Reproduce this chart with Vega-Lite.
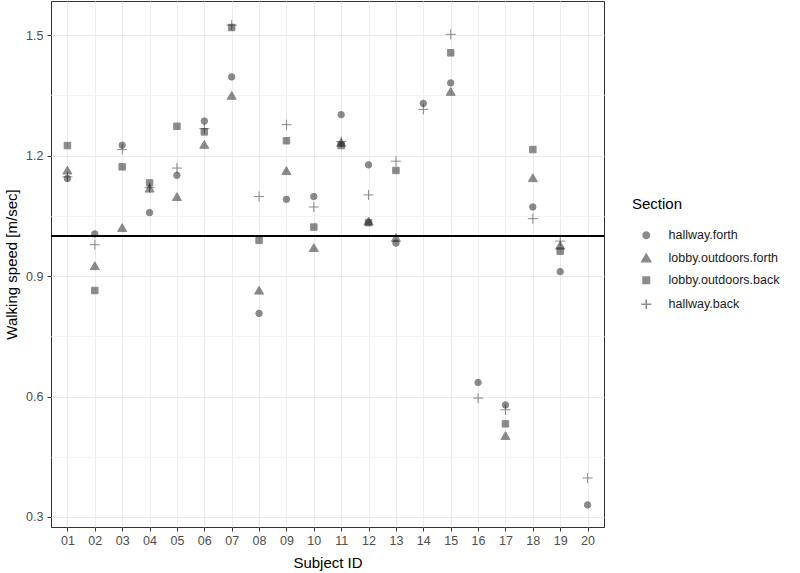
{
  "$schema": "https://vega.github.io/schema/vega-lite/v6.json",
  "autosize": "none",
  "width": 553,
  "height": 526,
  "padding": {"left": 51, "top": 1, "right": 196, "bottom": 46},
  "background": "white",
  "config": {
    "font": "Liberation Sans",
    "view": {"stroke": "#333333", "strokeWidth": 1},
    "axis": {
      "domain": false,
      "grid": true,
      "gridColor": "#ebebeb",
      "gridWidth": 1,
      "tickColor": "#333333",
      "tickSize": 4,
      "tickWidth": 1,
      "labelColor": "#4d4d4d",
      "labelFontSize": 12.5,
      "labelPadding": 3,
      "titleFontSize": 15,
      "titleFontWeight": "normal",
      "titleColor": "#000000"
    },
    "legend": {
      "titleFontSize": 15,
      "titleFontWeight": "normal",
      "titleColor": "#000000",
      "labelFontSize": 12.5,
      "labelColor": "#1a1a1a"
    }
  },
  "data": {
    "values": [
      {"subject": "01", "section": "hallway.forth", "speed": 1.143},
      {"subject": "01", "section": "lobby.outdoors.forth", "speed": 1.163},
      {"subject": "01", "section": "lobby.outdoors.back", "speed": 1.225},
      {"subject": "01", "section": "hallway.back", "speed": 1.147},
      {"subject": "02", "section": "hallway.forth", "speed": 1.005},
      {"subject": "02", "section": "lobby.outdoors.forth", "speed": 0.925},
      {"subject": "02", "section": "lobby.outdoors.back", "speed": 0.864},
      {"subject": "02", "section": "hallway.back", "speed": 0.978},
      {"subject": "03", "section": "hallway.forth", "speed": 1.226},
      {"subject": "03", "section": "lobby.outdoors.forth", "speed": 1.020},
      {"subject": "03", "section": "lobby.outdoors.back", "speed": 1.172},
      {"subject": "03", "section": "hallway.back", "speed": 1.215},
      {"subject": "04", "section": "hallway.forth", "speed": 1.058},
      {"subject": "04", "section": "lobby.outdoors.forth", "speed": 1.118},
      {"subject": "04", "section": "lobby.outdoors.back", "speed": 1.132},
      {"subject": "04", "section": "hallway.back", "speed": 1.120},
      {"subject": "05", "section": "hallway.forth", "speed": 1.151},
      {"subject": "05", "section": "lobby.outdoors.forth", "speed": 1.097},
      {"subject": "05", "section": "lobby.outdoors.back", "speed": 1.273},
      {"subject": "05", "section": "hallway.back", "speed": 1.169},
      {"subject": "06", "section": "hallway.forth", "speed": 1.286},
      {"subject": "06", "section": "lobby.outdoors.forth", "speed": 1.227},
      {"subject": "06", "section": "lobby.outdoors.back", "speed": 1.259},
      {"subject": "06", "section": "hallway.back", "speed": 1.267},
      {"subject": "07", "section": "hallway.forth", "speed": 1.396},
      {"subject": "07", "section": "lobby.outdoors.forth", "speed": 1.349},
      {"subject": "07", "section": "lobby.outdoors.back", "speed": 1.519},
      {"subject": "07", "section": "hallway.back", "speed": 1.525},
      {"subject": "08", "section": "hallway.forth", "speed": 0.807},
      {"subject": "08", "section": "lobby.outdoors.forth", "speed": 0.864},
      {"subject": "08", "section": "lobby.outdoors.back", "speed": 0.989},
      {"subject": "08", "section": "hallway.back", "speed": 1.098},
      {"subject": "09", "section": "hallway.forth", "speed": 1.091},
      {"subject": "09", "section": "lobby.outdoors.forth", "speed": 1.162},
      {"subject": "09", "section": "lobby.outdoors.back", "speed": 1.237},
      {"subject": "09", "section": "hallway.back", "speed": 1.277},
      {"subject": "10", "section": "hallway.forth", "speed": 1.098},
      {"subject": "10", "section": "lobby.outdoors.forth", "speed": 0.970},
      {"subject": "10", "section": "lobby.outdoors.back", "speed": 1.022},
      {"subject": "10", "section": "hallway.back", "speed": 1.072},
      {"subject": "11", "section": "hallway.forth", "speed": 1.302},
      {"subject": "11", "section": "lobby.outdoors.forth", "speed": 1.232},
      {"subject": "11", "section": "lobby.outdoors.back", "speed": 1.225},
      {"subject": "11", "section": "hallway.back", "speed": 1.235},
      {"subject": "12", "section": "hallway.forth", "speed": 1.177},
      {"subject": "12", "section": "lobby.outdoors.forth", "speed": 1.036},
      {"subject": "12", "section": "lobby.outdoors.back", "speed": 1.033},
      {"subject": "12", "section": "hallway.back", "speed": 1.102},
      {"subject": "13", "section": "hallway.forth", "speed": 0.982},
      {"subject": "13", "section": "lobby.outdoors.forth", "speed": 0.995},
      {"subject": "13", "section": "lobby.outdoors.back", "speed": 1.163},
      {"subject": "13", "section": "hallway.back", "speed": 1.186},
      {"subject": "14", "section": "hallway.forth", "speed": 1.330},
      {"subject": "14", "section": "hallway.back", "speed": 1.315},
      {"subject": "15", "section": "hallway.forth", "speed": 1.381},
      {"subject": "15", "section": "lobby.outdoors.forth", "speed": 1.359},
      {"subject": "15", "section": "lobby.outdoors.back", "speed": 1.456},
      {"subject": "15", "section": "hallway.back", "speed": 1.502},
      {"subject": "16", "section": "hallway.forth", "speed": 0.635},
      {"subject": "16", "section": "hallway.back", "speed": 0.596},
      {"subject": "17", "section": "hallway.forth", "speed": 0.579},
      {"subject": "17", "section": "lobby.outdoors.forth", "speed": 0.502},
      {"subject": "17", "section": "lobby.outdoors.back", "speed": 0.532},
      {"subject": "17", "section": "hallway.back", "speed": 0.567},
      {"subject": "18", "section": "hallway.forth", "speed": 1.072},
      {"subject": "18", "section": "lobby.outdoors.forth", "speed": 1.144},
      {"subject": "18", "section": "lobby.outdoors.back", "speed": 1.215},
      {"subject": "18", "section": "hallway.back", "speed": 1.043},
      {"subject": "19", "section": "hallway.forth", "speed": 0.911},
      {"subject": "19", "section": "lobby.outdoors.forth", "speed": 0.976},
      {"subject": "19", "section": "lobby.outdoors.back", "speed": 0.962},
      {"subject": "19", "section": "hallway.back", "speed": 0.987},
      {"subject": "20", "section": "hallway.forth", "speed": 0.330},
      {"subject": "20", "section": "hallway.back", "speed": 0.397}
    ]
  },
  "layer": [
    {
      "mark": {"type": "rule", "color": "#000000", "strokeWidth": 1.3},
      "encoding": {"y": {"datum": 1.0, "type": "quantitative"}}
    },
    {
      "mark": {
        "type": "point",
        "filled": true,
        "fill": "#000000",
        "stroke": "#000000",
        "strokeWidth": 1,
        "opacity": 0.45,
        "size": 42
      },
      "encoding": {
        "x": {
          "field": "subject",
          "type": "ordinal",
          "scale": {"type": "point", "padding": 0.6},
          "axis": {"title": "Subject ID", "labelAngle": 0, "titlePadding": 9, "grid": true}
        },
        "y": {
          "field": "speed",
          "type": "quantitative",
          "scale": {"domain": [0.275, 1.585], "nice": false, "zero": false},
          "axis": {
            "title": "Walking speed [m/sec]",
            "grid": true,
            "values": [0.3, 0.45, 0.6, 0.75, 0.9, 1.05, 1.2, 1.35, 1.5],
            "labelExpr": "round(datum.value*100) % 30 == 0 ? format(datum.value, '.1f') : ''",
            "tickOpacity": {"condition": {"test": "round(datum.value*100) % 30 != 0", "value": 0}, "value": 1},
            "gridColor": {"condition": {"test": "round(datum.value*100) % 30 != 0", "value": "#f4f4f4"}, "value": "#ebebeb"},
            "labelPadding": 4,
            "titlePadding": 6
          }
        },
        "shape": {
          "field": "section",
          "type": "nominal",
          "scale": {
            "domain": ["hallway.forth", "lobby.outdoors.forth", "lobby.outdoors.back", "hallway.back"],
            "range": ["circle", "M0,-1.3L1.4,1.1L-1.4,1.1Z", "square", "M-1.55,0H1.55M0,-1.55V1.55"]
          },
          "legend": {
            "title": "Section",
            "orient": "none",
            "legendX": 581,
            "legendY": 196,
            "titlePadding": 17,
            "rowPadding": 9,
            "symbolSize": 42,
            "symbolOffset": 8,
            "symbolOpacity": 0.45,
            "labelOffset": 16,
            "padding": 0,
            "encode": {
              "symbols": {
                "update": {
                  "fill": {"value": "#000000"},
                  "stroke": {"value": "#000000"},
                  "strokeWidth": {"value": 1},
                  "opacity": {"value": 0.45}
                }
              }
            }
          }
        }
      }
    }
  ]
}
